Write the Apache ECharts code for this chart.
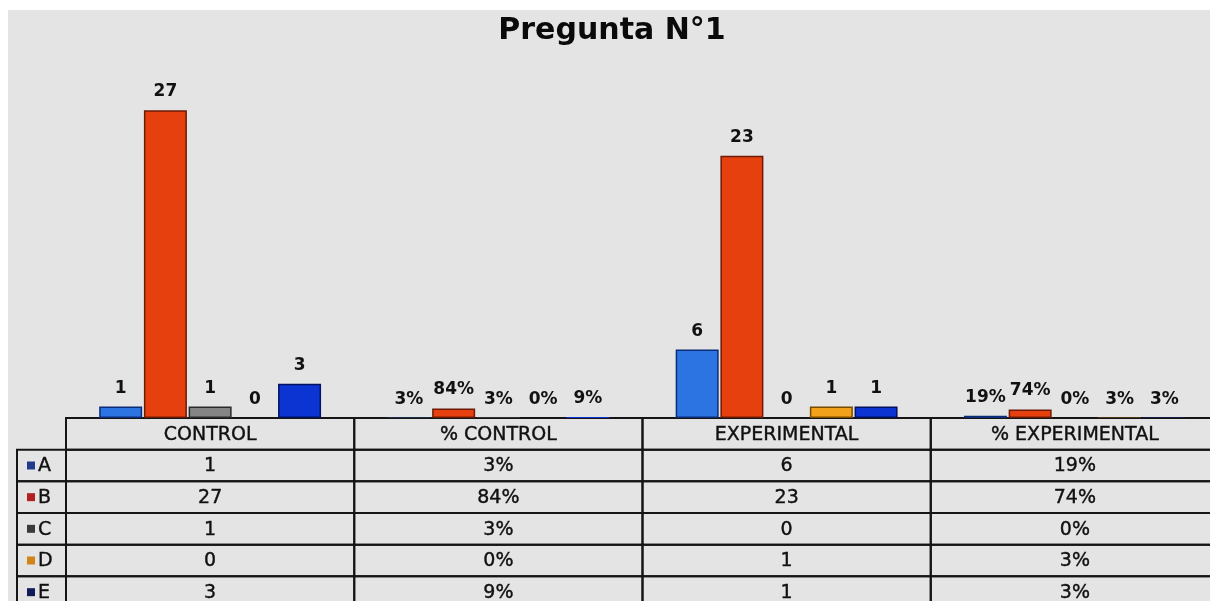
<!DOCTYPE html>
<html>
<head>
<meta charset="utf-8">
<script src="https://cdn.jsdelivr.net/npm/echarts@6/dist/echarts.min.js"></script>
<style>
html,body{margin:0;padding:0;background:#fff;}
#chart{width:1210px;height:601px;}
</style>
</head>
<body>
<div id="chart"></div>
<script>
// ---- data ----
const title = 'Pregunta N°1';
const categories = ['CONTROL', '% CONTROL', 'EXPERIMENTAL', '% EXPERIMENTAL'];
const isPercent = [false, true, false, true];
const seriesNames = ['A', 'B', 'C', 'D', 'E'];
const valuesA = [1, 0.03, 6, 0.19];
const valuesB = [27, 0.84, 23, 0.74];
const valuesC = [1, 0.03, 0, 0.00];
const valuesD = [0, 0.00, 1, 0.03];
const valuesE = [3, 0.09, 1, 0.03];
const yMax = 30;

// ---- styles ----
const allValues = [valuesA, valuesB, valuesC, valuesD, valuesE];
const fills = ['#2b74e2', '#e6400f', '#858585', '#f2a11a', '#0c34d2'];
const borders = ['#0d2c78', '#6e1a06', '#2a2a2a', '#7a4a00', '#03125e'];
const keyColors = ['#203a8c', '#b02020', '#3a3a3a', '#d0841a', '#121a5a'];
const FONT = 'DejaVu Sans';

function fmt(v, pct) {
  return pct ? Math.round(v * 100) + '%' : String(v);
}

const chart = echarts.init(document.getElementById('chart'), null, {renderer: 'canvas'});

const barSeries = seriesNames.map((name, i) => ({
  name: name,
  type: 'bar',
  xAxisIndex: 0,
  yAxisIndex: 0,
  barWidth: 43,
  barGap: '4%',
  data: allValues[i].map(v => ({
    value: v,
    itemStyle: {borderWidth: v < 0.1 ? 0 : 1.5}
  })),
  itemStyle: {color: fills[i], borderColor: borders[i], borderWidth: 1.5},
  label: {
    show: true,
    position: 'top',
    distance: 10,
    fontFamily: FONT,
    fontWeight: 'bold',
    fontSize: 17,
    color: '#111',
    formatter: p => fmt(p.value, isPercent[p.dataIndex])
  }
}));

const tableData = [];
for (let r = 0; r <= seriesNames.length; r++) {
  for (let c = 0; c < categories.length; c++) tableData.push([c, r]);
}

const tableSeries = {
  type: 'custom',
  xAxisIndex: 1,
  yAxisIndex: 1,
  data: tableData,
  silent: true,
  clip: false,
  renderItem: function (params, api) {
    const c = api.value(0), r = api.value(1);
    const pt = api.coord([c, r]);
    const sz = api.size([1, 1]);
    const x0 = pt[0] - sz[0] / 2, y0 = pt[1] - sz[1] / 2;
    const text = r === 0 ? categories[c] : fmt(allValues[r - 1][c], isPercent[c]);
    const children = [
      {type: 'rect', shape: {x: x0, y: y0, width: sz[0], height: sz[1]},
       style: {fill: 'none', stroke: '#151515', lineWidth: 2}},
      {type: 'text', style: {x: pt[0], y: pt[1] + 1, text: text, align: 'center', verticalAlign: 'middle',
        font: '19px "' + FONT + '"', fill: '#101010', stroke: '#101010', lineWidth: 0.4}}
    ];
    if (c === 0 && r > 0) {
      const lw = 49;
      children.push(
        {type: 'rect', shape: {x: x0 - lw, y: y0, width: lw, height: sz[1]},
         style: {fill: 'none', stroke: '#151515', lineWidth: 2}},
        {type: 'rect', shape: {x: x0 - lw + 10, y: pt[1] - 4, width: 8, height: 8},
         style: {fill: keyColors[r - 1]}},
        {type: 'text', style: {x: x0 - lw + 21, y: pt[1] + 1, text: seriesNames[r - 1], align: 'left',
          verticalAlign: 'middle', font: '19px "' + FONT + '"', fill: '#101010', stroke: '#101010', lineWidth: 0.4}}
      );
    }
    return {type: 'group', children: children};
  }
};

const option = {
  backgroundColor: '#ffffff',
  animation: false,
  title: {
    text: title,
    left: 607,
    textAlign: 'center',
    top: 11,
    textStyle: {fontFamily: FONT, fontWeight: 'bold', fontSize: 30, color: '#0a0a0a'}
  },
  graphic: [{
    type: 'rect', left: 8, top: 10, z: -10,
    shape: {width: 1210, height: 600},
    style: {fill: '#e4e4e4'}
  }],
  grid: [
    {left: 66, top: 76, width: 1153, height: 342, outerBoundsMode: 'none', containLabel: false},
    {left: 66, top: 418, width: 1153, height: 190, outerBoundsMode: 'none', containLabel: false}
  ],
  xAxis: [
    {type: 'category', gridIndex: 0, data: categories,
     axisLine: {show: false}, axisTick: {show: false}, axisLabel: {show: false}},
    {type: 'category', gridIndex: 1, data: categories,
     axisLine: {show: false}, axisTick: {show: false}, axisLabel: {show: false}}
  ],
  yAxis: [
    {type: 'value', gridIndex: 0, min: 0, max: yMax,
     axisLine: {show: false}, axisTick: {show: false}, axisLabel: {show: false}, splitLine: {show: false}},
    {type: 'category', gridIndex: 1, inverse: true, data: [''].concat(seriesNames),
     axisLine: {show: false}, axisTick: {show: false}, axisLabel: {show: false}, splitLine: {show: false}}
  ],
  series: barSeries.concat([tableSeries])
};
chart.setOption(option);
</script>
</body>
</html>
